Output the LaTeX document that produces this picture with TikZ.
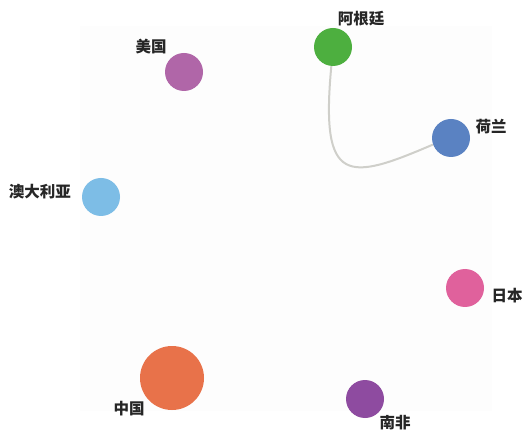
\documentclass[tikz,border=0pt]{standalone}
\usepackage{fontspec}
\newfontfamily\cjk{Noto Sans CJK SC}
\definecolor{cgreen}{HTML}{4DAF3F}
\definecolor{cblue}{HTML}{5A82C2}
\definecolor{cpinkpurple}{HTML}{B066A8}
\definecolor{clightblue}{HTML}{7DBDE6}
\definecolor{cpink}{HTML}{E0619C}
\definecolor{corange}{HTML}{E8724A}
\definecolor{cpurple}{HTML}{8E4BA0}
\definecolor{edgegray}{HTML}{CFCFCA}
\definecolor{bgpanel}{HTML}{FDFDFD}
\begin{document}
\begin{tikzpicture}[x=1pt,y=1pt,
  country/.style={circle,inner sep=0pt,minimum size=38pt},
  lbl/.style={font=\cjk\bfseries\fontsize{15.5}{17}\selectfont,inner sep=0pt,text=black!85},
  link/.style={draw=edgegray,line width=2pt}]
\useasboundingbox (0,0) rectangle (524,431);
\fill[white] (0,0) rectangle (524,431);
\fill[bgpanel] (80,20) rectangle (492,405);
% nodes (y = 431 - pixel y)
\node[country,fill=cgreen] (arg) at (333,384) {};
\node[country,fill=cblue] (nl) at (451,293) {};
\node[country,fill=cpinkpurple] (us) at (184,359) {};
\node[country,fill=clightblue] (au) at (101,234) {};
\node[country,fill=cpink] (jp) at (465,143) {};
\node[country,fill=corange,minimum size=64pt] (cn) at (172,53) {};
\node[country,fill=cpurple] (za) at (365,32) {};
% labels
\node[lbl] (larg) at (361,412) {阿根廷};
\node[lbl] (lnl) at (491,304) {荷兰};
\node[lbl] (lus) at (151,384) {美国};
\node[lbl] (lau) at (40,239) {澳大利亚};
\node[lbl] (ljp) at (507,135) {日本};
\node[lbl] (lcn) at (129,22) {中国};
\node[lbl] (lza) at (395,8) {南非};
% edge
\draw[link] (arg.265) .. controls (320,245) and (348,250) .. (nl.200);
\end{tikzpicture}
\end{document}
